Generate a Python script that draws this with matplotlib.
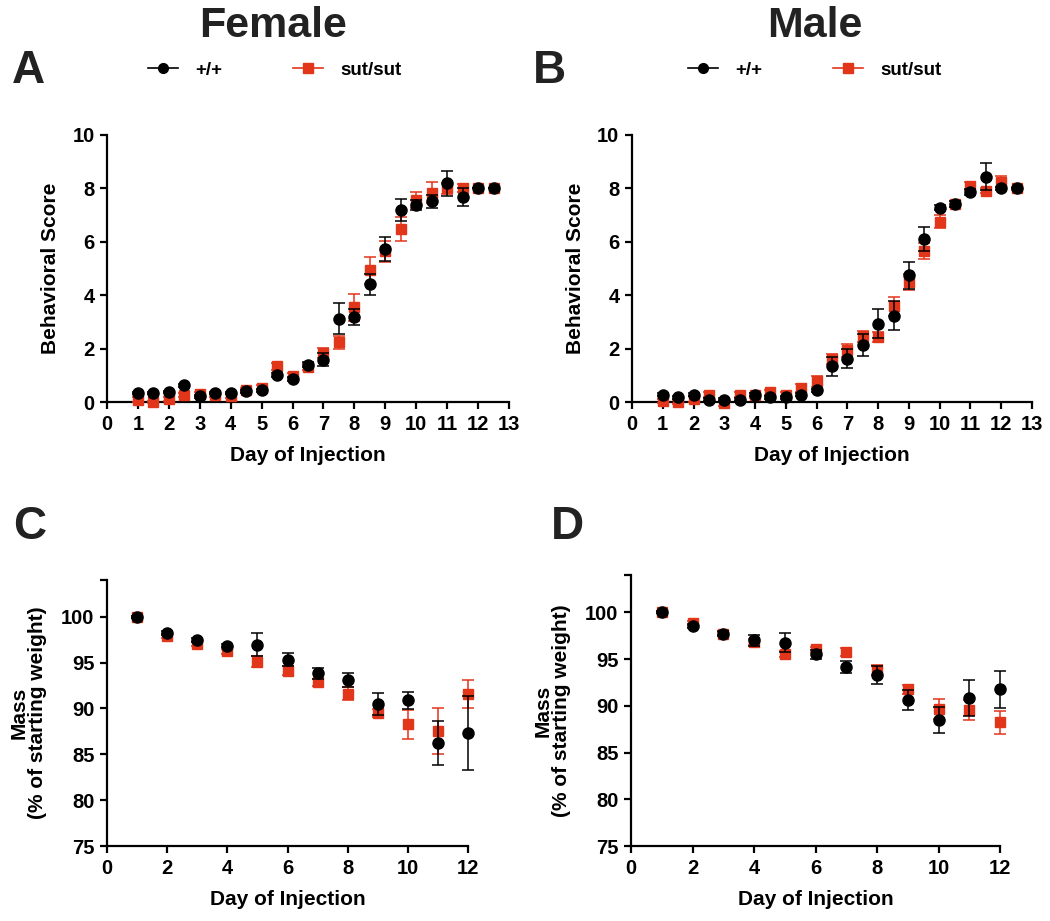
import numpy as np
import matplotlib
matplotlib.use('Agg')
import matplotlib.pyplot as plt
from matplotlib.lines import Line2D

plt.rcParams['font.family'] = ['Liberation Sans', 'DejaVu Sans']
plt.rcParams['font.weight'] = 'bold'
plt.rcParams['axes.labelweight'] = 'bold'

RED = '#E2361B'
BLACK = '#000000'

#%% data
score_days = np.arange(1, 13, 0.5)
mass_days = np.arange(1, 13)

f_score_wt = [0.34, 0.34, 0.37, 0.62, 0.21, 0.34, 0.34, 0.40, 0.44, 1.00, 0.87, 1.40,
              1.58, 3.12, 3.18, 4.41, 5.72, 7.19, 7.38, 7.51, 8.19, 7.67, 8.00, 8.00]
f_score_wt_err = [0.05, 0.05, 0.05, 0.05, 0.05, 0.05, 0.05, 0.05, 0.05, 0.08, 0.08, 0.10,
                  0.25, 0.57, 0.30, 0.40, 0.45, 0.40, 0.20, 0.25, 0.48, 0.33, 0.00, 0.00]
f_score_sut = [0.09, 0.00, 0.11, 0.25, 0.31, 0.27, 0.24, 0.46, 0.52, 1.33, 0.99, 1.30,
               1.83, 2.23, 3.54, 4.93, 5.64, 6.47, 7.57, 7.84, 8.00, 8.00, 8.00, 8.00]
f_score_sut_err = [0.08, 0.05, 0.08, 0.08, 0.08, 0.08, 0.08, 0.08, 0.10, 0.12, 0.10, 0.12,
                   0.20, 0.25, 0.50, 0.50, 0.40, 0.45, 0.30, 0.40, 0.20, 0.15, 0.00, 0.00]

m_score_wt = [0.27, 0.17, 0.27, 0.09, 0.09, 0.09, 0.27, 0.17, 0.17, 0.27, 0.44, 1.33,
              1.62, 2.14, 2.93, 3.23, 4.74, 6.11, 7.28, 7.42, 7.86, 8.44, 8.00, 8.00]
m_score_wt_err = [0.05, 0.05, 0.05, 0.05, 0.05, 0.05, 0.05, 0.05, 0.05, 0.05, 0.05, 0.35,
                  0.35, 0.40, 0.55, 0.55, 0.50, 0.45, 0.10, 0.10, 0.10, 0.50, 0.05, 0.00]
m_score_sut = [0.05, 0.00, 0.11, 0.27, -0.04, 0.27, 0.25, 0.36, 0.27, 0.52, 0.77, 1.61,
               1.93, 2.46, 2.43, 3.58, 4.48, 5.67, 6.76, 7.42, 8.09, 7.92, 8.25, 8.00]
m_score_sut_err = [0.08, 0.08, 0.10, 0.10, 0.12, 0.10, 0.10, 0.10, 0.10, 0.15, 0.20, 0.20,
                   0.25, 0.20, 0.20, 0.35, 0.30, 0.30, 0.25, 0.10, 0.15, 0.10, 0.20, 0.05]

f_mass_wt = [100, 98.19, 97.46, 96.85, 96.96, 95.29, 93.84, 93.12, 90.43, 90.87, 86.23, 87.32]
f_mass_wt_err = [0.1, 0.2, 0.2, 0.2, 1.3, 0.7, 0.6, 0.75, 1.2, 0.9, 2.45, 4.0]
f_mass_sut = [100, 97.93, 97.03, 96.23, 95.11, 94.13, 92.86, 91.59, 89.49, 88.26, 87.54, 91.59]
f_mass_sut_err = [0.1, 0.2, 0.2, 0.3, 0.6, 0.5, 0.4, 0.7, 0.4, 1.6, 2.5, 1.5]

m_mass_wt = [100, 98.51, 97.73, 97.02, 96.74, 95.50, 94.15, 93.30, 90.64, 88.48, 90.82, 91.77]
m_mass_wt_err = [0.1, 0.2, 0.3, 0.6, 1.0, 0.5, 0.6, 1.0, 1.1, 1.4, 1.9, 1.95]
m_mass_sut = [100, 98.87, 97.73, 96.84, 95.57, 96.03, 95.78, 93.83, 91.77, 89.65, 89.57, 88.23]
m_mass_sut_err = [0.1, 0.2, 0.2, 0.3, 0.3, 0.3, 0.4, 0.5, 0.5, 1.1, 1.05, 1.25]


#%% helpers
def style_axes(ax):
    for s in ['top', 'right']:
        ax.spines[s].set_visible(False)
    for s in ['left', 'bottom']:
        ax.spines[s].set_linewidth(1.6)
    ax.tick_params(direction='out', length=5, width=1.6, labelsize=14.5, pad=4)
    ax.tick_params(which='minor', direction='out', length=5, width=1.6)


def draw_pair(ax, x, wt, wt_err, sut, sut_err):
    ax.errorbar(x, sut, yerr=sut_err, fmt='s', color=RED, ms=7, capsize=4.5,
                elinewidth=1.1, capthick=1.1, clip_on=False, zorder=3)
    ax.errorbar(x, wt, yerr=wt_err, fmt='o', color=BLACK, ms=8, capsize=4.5,
                elinewidth=1.1, capthick=1.1, clip_on=False, zorder=4)


fig = plt.figure(figsize=(10.5, 9.21), dpi=100)
W, H = 1050, 921


def px_axes(left, right, top, bottom):
    return fig.add_axes([left / W, 1 - bottom / H, (right - left) / W, (bottom - top) / H])


axA = px_axes(107, 509, 135, 402)
axB = px_axes(632, 1032, 135, 402)
axC = px_axes(107, 468, 580, 846)
axD = px_axes(631, 1000, 575, 846)

for ax, wt, wte, sut, sute in [(axA, f_score_wt, f_score_wt_err, f_score_sut, f_score_sut_err),
                               (axB, m_score_wt, m_score_wt_err, m_score_sut, m_score_sut_err)]:
    draw_pair(ax, score_days, wt, wte, sut, sute)
    ax.set_xlim(0, 13)
    ax.set_ylim(0, 10)
    ax.set_xticks(range(0, 14))
    ax.set_yticks(range(0, 11, 2))
    style_axes(ax)
    ax.set_xlabel('Day of Injection', fontsize=15, labelpad=9)
    ax.set_ylabel('Behavioral Score', fontsize=15, labelpad=9)

for ax, wt, wte, sut, sute in [(axC, f_mass_wt, f_mass_wt_err, f_mass_sut, f_mass_sut_err),
                               (axD, m_mass_wt, m_mass_wt_err, m_mass_sut, m_mass_sut_err)]:
    draw_pair(ax, mass_days, wt, wte, sut, sute)
    ax.set_xlim(0, 12)
    ax.set_ylim(75, 104)
    ax.set_xticks(range(0, 13, 2))
    ax.set_yticks(range(75, 101, 5))
    ax.set_yticks([104], minor=True)
    style_axes(ax)
    ax.set_xlabel('Day of Injection', fontsize=15, labelpad=9)
    ax.set_ylabel('Mass\n(% of starting weight)', fontsize=15, labelpad=10,
                  linespacing=0.95)

# titles and panel letters
fig.text(273 / W, 1 - 37 / H, 'Female', fontsize=31, ha='center', va='baseline', color='#222222')
fig.text(815 / W, 1 - 37 / H, 'Male', fontsize=31, ha='center', va='baseline', color='#222222')
for lab, x, y in [('A', 12, 83), ('B', 533, 83), ('C', 13, 539), ('D', 551, 539)]:
    fig.text(x / W, 1 - y / H, lab, fontsize=33, ha='left', va='baseline', color='#222222')

# legends
handles = [Line2D([], [], color=BLACK, marker='o', ms=7, lw=1.2),
           Line2D([], [], color=RED, marker='s', ms=7, lw=1.2)]
for x0 in [148, 688]:
    fig.legend(handles, ['+/+', 'sut/sut'], loc='center left',
               bbox_to_anchor=(x0 / W, 1 - 70 / H), ncol=2, frameon=False,
               fontsize=13.5, handlelength=1.6, handletextpad=0.9, columnspacing=3.8,
               borderpad=0, borderaxespad=0)

fig.savefig('out.png', dpi=100)
